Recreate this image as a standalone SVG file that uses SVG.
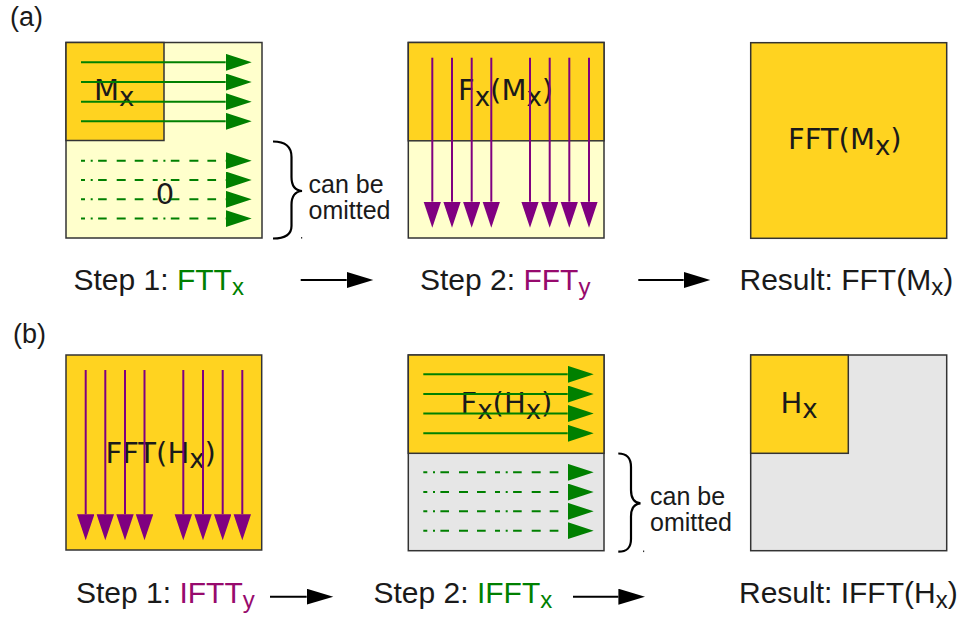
<svg xmlns="http://www.w3.org/2000/svg" width="967" height="619" viewBox="0 0 967 619">
  <style>
    .box { stroke: #333333; stroke-width: 1.5; }
    .full { fill: #FFD320; }
    .zero { fill: #FFFFCC; }
    .gray { fill: #E6E6E6; }
    .gl { stroke: #008000; stroke-width: 2; fill: none; marker-end: url(#headGreen); }
    .gd { stroke: #008000; stroke-width: 2; fill: none; marker-end: url(#headGreen);
          stroke-dasharray: 2 5.4 8.6 10 9 9 8.7 9.3 5 5.7; stroke-dashoffset: 63; }
    .pl { stroke: #800080; stroke-width: 2; fill: none; marker-end: url(#headPurple); }
    .step { stroke: #000000; stroke-width: 2; fill: none; marker-end: url(#headBlack); }
    .brace { stroke: #000000; stroke-width: 2.2; fill: none; }
    .in { font-family: "DejaVu Sans", "Liberation Sans", sans-serif; font-size: 29px; fill: #1a1a1a; }
    .lab { font-family: "Liberation Sans", Arial, sans-serif; font-size: 30px; fill: #1a1a1a; }
    .tag { font-family: "Liberation Sans", Arial, sans-serif; font-size: 27px; fill: #1a1a1a; }
    .note { font-family: "Liberation Sans", Arial, sans-serif; font-size: 25px; fill: #1a1a1a; }
    .sub { font-size: 24px; }
    .isub { font-size: 26px; }
    .cg { fill: #008000; }
    .cp { fill: #970a6d; }
  </style>
  <defs>
    <marker id="headGreen" markerUnits="userSpaceOnUse" markerWidth="27" markerHeight="18" refX="0" refY="8.5" orient="auto">
      <path d="M0,0 L26,8.5 L0,17 z" fill="#008000"/>
    </marker>
    <marker id="headPurple" markerUnits="userSpaceOnUse" markerWidth="27" markerHeight="18" refX="0" refY="8.7" orient="auto">
      <path d="M0,0 L26,8.7 L0,17.4 z" fill="#800080"/>
    </marker>
    <marker id="headBlack" markerUnits="userSpaceOnUse" markerWidth="27" markerHeight="17" refX="0" refY="8" orient="auto">
      <path d="M0,0 L26.6,8 L0,16 z" fill="#000000"/>
    </marker>
  </defs>

  <!-- panel letters -->
  <text class="tag" x="10" y="26">(a)</text>
  <text class="tag" x="13" y="343">(b)</text>

  <!-- (a) step 1: row transforms of the zero-padded input -->
  <g id="a-step1">
    <rect class="box zero" x="66" y="42.5" width="196" height="195.5"/>
    <rect class="box full" x="66" y="42.5" width="98" height="98"/>
    <text class="in" x="94" y="100">M<tspan class="isub" dy="5.5">x</tspan></text>
    <text class="in" x="165" y="203.5" text-anchor="middle">0</text>
    <path class="gl" d="M81,62.3 H225.7"/>
    <path class="gl" d="M81,82 H225.7"/>
    <path class="gl" d="M81,101.7 H225.7"/>
    <path class="gl" d="M81,121.3 H225.7"/>
    <path class="gd" d="M81,160.7 H225.7"/>
    <path class="gd" d="M81,180 H225.7"/>
    <path class="gd" d="M81,199.3 H225.7"/>
    <path class="gd" d="M81,218.6 H225.7"/>
    <path class="brace" d="M273,141.5 C285,141.5 291.5,146 291.5,157 L291.5,177 C291.5,186 295.5,190.5 302,191 C295.5,191.5 291.5,196 291.5,205 L291.5,226 C291.5,235 285,238.5 273,238.5"/>
    <rect x="301" y="237" width="1.2" height="1.6" fill="#333333"/>
    <text class="note" x="308.5" y="193">can be</text>
    <text class="note" x="308.5" y="219">omitted</text>
  </g>

  <!-- (a) step 2: column transforms -->
  <g id="a-step2">
    <rect class="box zero" x="408.3" y="42.5" width="195.7" height="195.5"/>
    <rect class="box full" x="408.3" y="42.5" width="195.7" height="98.3"/>
    <text class="in" x="458" y="100">F<tspan class="isub" dy="5.5">x</tspan><tspan dy="-5.5">(M</tspan><tspan class="isub" dy="5.5">x</tspan><tspan dy="-5.5">)</tspan></text>
    <path class="pl" d="M432.3,57.7 V201.7"/>
    <path class="pl" d="M452,57.7 V201.7"/>
    <path class="pl" d="M471.7,57.7 V201.7"/>
    <path class="pl" d="M491.3,57.7 V201.7"/>
    <path class="pl" d="M530,57.7 V201.7"/>
    <path class="pl" d="M549.7,57.7 V201.7"/>
    <path class="pl" d="M569.3,57.7 V201.7"/>
    <path class="pl" d="M589,57.7 V201.7"/>
  </g>

  <!-- (a) result -->
  <g id="a-result">
    <rect class="box full" x="750.7" y="42.7" width="196" height="195.6"/>
    <text class="in" x="788" y="149.3">FFT(M<tspan class="isub" dy="5.5">x</tspan><tspan dy="-5.5">)</tspan></text>
  </g>

  <!-- (b) step 1: column inverse transforms -->
  <g id="b-step1">
    <rect class="box full" x="66" y="355" width="195.7" height="195"/>
    <text class="in" x="105.5" y="462.7">FFT(H<tspan class="isub" dy="5.5">x</tspan><tspan dy="-5.5">)</tspan></text>
    <path class="pl" d="M85.7,370 V514.3"/>
    <path class="pl" d="M105.3,370 V514.3"/>
    <path class="pl" d="M125,370 V514.3"/>
    <path class="pl" d="M144.5,370 V514.3"/>
    <path class="pl" d="M183.3,370 V514.3"/>
    <path class="pl" d="M203,370 V514.3"/>
    <path class="pl" d="M222.7,370 V514.3"/>
    <path class="pl" d="M242.3,370 V514.3"/>
  </g>

  <!-- (b) step 2: row inverse transforms -->
  <g id="b-step2">
    <rect class="box gray" x="408.3" y="355" width="195.7" height="195.7"/>
    <rect class="box full" x="408.3" y="355" width="195.7" height="98.3"/>
    <text class="in" x="460.5" y="413.3">F<tspan class="isub" dy="5.5">x</tspan><tspan dy="-5.5">(H</tspan><tspan class="isub" dy="5.5">x</tspan><tspan dy="-5.5">)</tspan></text>
    <path class="gl" d="M423.3,374.3 H567.7"/>
    <path class="gl" d="M423.3,394 H567.7"/>
    <path class="gl" d="M423.3,413.5 H567.7"/>
    <path class="gl" d="M423.3,433.3 H567.7"/>
    <path class="gd" d="M423.3,472.3 H567.7"/>
    <path class="gd" d="M423.3,492 H567.7"/>
    <path class="gd" d="M423.3,511.3 H567.7"/>
    <path class="gd" d="M423.3,530.7 H567.7"/>
    <path class="brace" d="M618.3,453.5 C627,453.5 631,458 631,467 L631,490 C631,498.5 634.5,502.8 640.5,503.3 C634.5,503.8 631,508 631,516.5 L631,539 C631,548 627,551.7 618.3,551.7"/>
    <rect x="643" y="550.5" width="1.2" height="1.6" fill="#333333"/>
    <text class="note" x="650" y="505">can be</text>
    <text class="note" x="650" y="531">omitted</text>
  </g>

  <!-- (b) result -->
  <g id="b-result">
    <rect class="box gray" x="750.7" y="355" width="196" height="195.7"/>
    <rect class="box full" x="750.7" y="355" width="97.6" height="98.3"/>
    <text class="in" x="780.5" y="412.7">H<tspan class="isub" dy="5.5">x</tspan></text>
  </g>

  <!-- step captions -->
  <text class="lab" x="73.5" y="290">Step 1: <tspan class="cg">FTT</tspan><tspan class="cg sub" dy="5">x</tspan></text>
  <text class="lab" x="420" y="290">Step 2: <tspan class="cp">FFT</tspan><tspan class="cp sub" dy="5">y</tspan></text>
  <text class="lab" x="739.5" y="290">Result: FFT(M<tspan class="sub" dy="5">x</tspan><tspan dy="-5">)</tspan></text>
  <text class="lab" x="76" y="603.3">Step 1: <tspan class="cp">IFTT</tspan><tspan class="cp sub" dy="5">y</tspan></text>
  <text class="lab" x="373.5" y="603.3">Step 2: <tspan class="cg">IFFT</tspan><tspan class="cg sub" dy="5">x</tspan></text>
  <text class="lab" x="739" y="603.3">Result: IFFT(H<tspan class="sub" dy="5">x</tspan><tspan dy="-5">)</tspan></text>

  <!-- step connectors -->
  <g id="connectors">
    <path class="step" d="M300.7,280 H346.7"/>
    <path class="step" d="M638.3,280 H683.7"/>
    <path class="step" d="M270,596.7 H306.7"/>
    <path class="step" d="M573,596.7 H618.4"/>
  </g>
</svg>
